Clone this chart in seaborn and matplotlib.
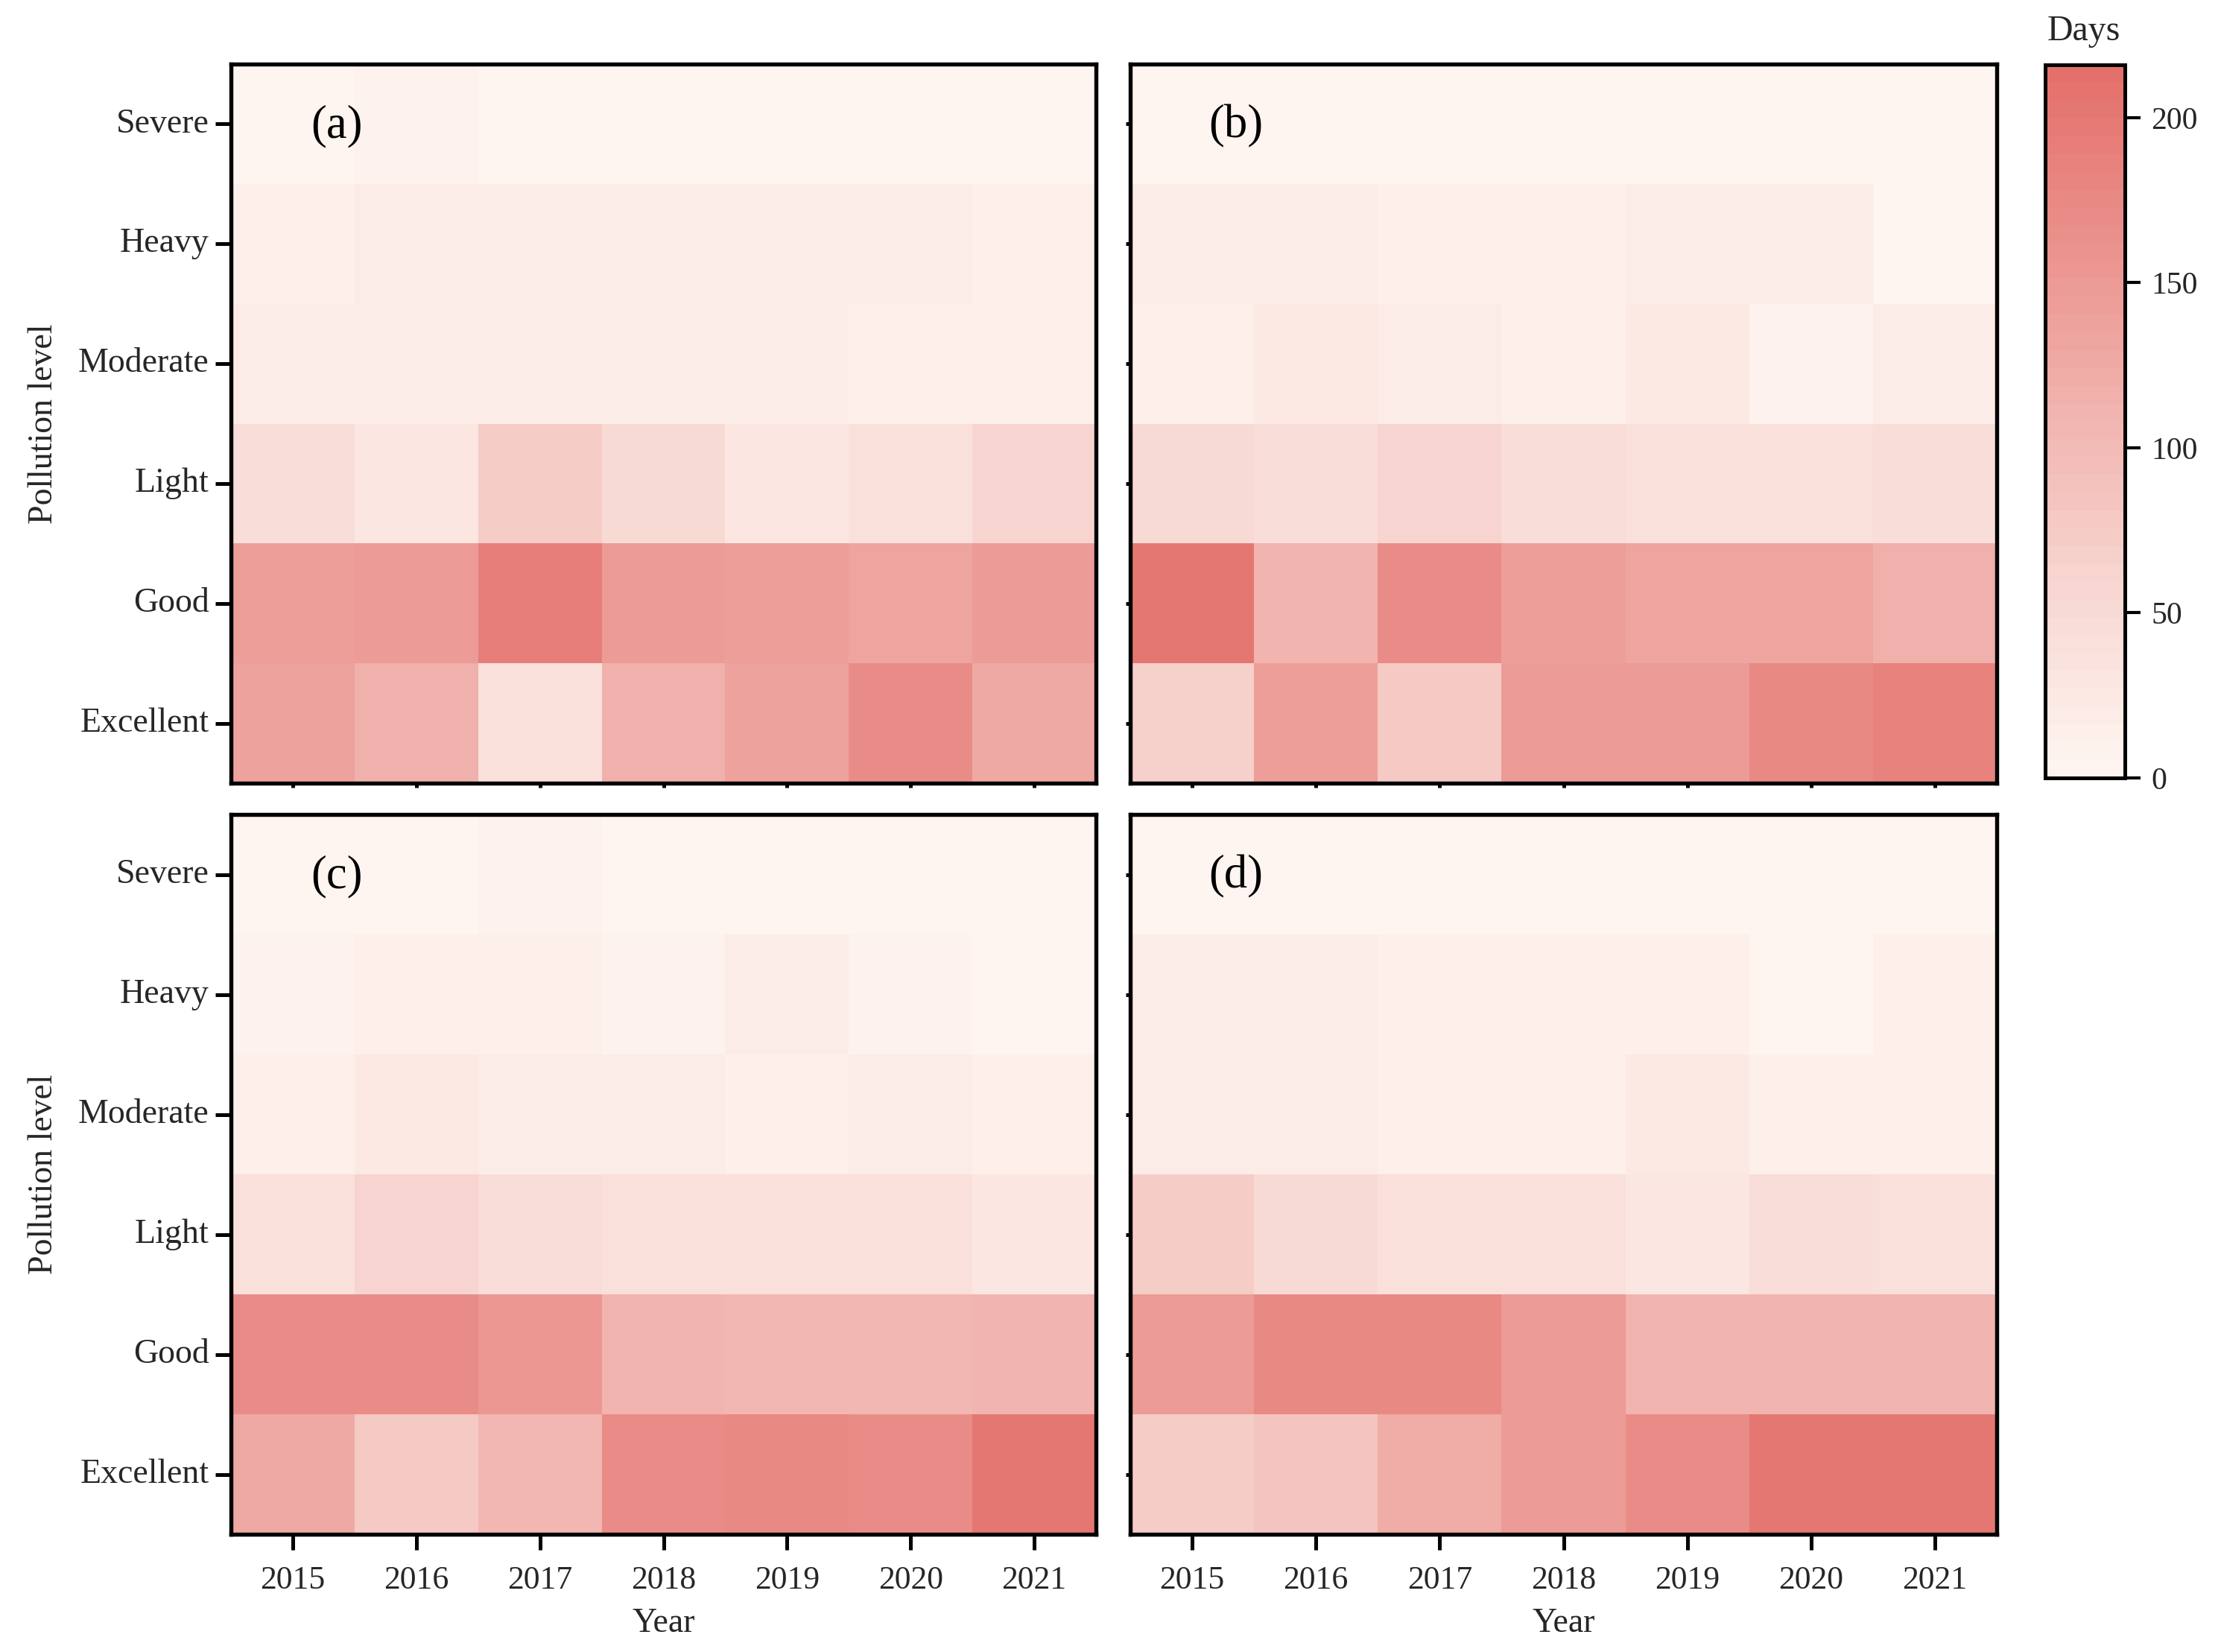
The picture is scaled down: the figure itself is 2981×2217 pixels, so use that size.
import numpy as np
import pandas as pd
import matplotlib
matplotlib.use("Agg")
import matplotlib.pyplot as plt
import seaborn as sns
from matplotlib.colors import LinearSegmentedColormap

years = [2015, 2016, 2017, 2018, 2019, 2020, 2021]
levels = ["Severe", "Heavy", "Moderate", "Light", "Good", "Excellent"]

# rows follow `levels` (Severe ... Excellent), columns follow `years`
panel_a = [
    [4, 9, 2, 2, 2, 2, 2],
    [12, 20, 17, 17, 17, 18, 12],
    [17, 17, 17, 17, 17, 12, 13],
    [48, 32, 72, 52, 32, 40, 62],
    [145, 148, 192, 148, 145, 130, 150],
    [135, 115, 38, 118, 135, 170, 125],
]
panel_b = [
    [2, 2, 2, 2, 2, 2, 2],
    [17, 17, 13, 13, 17, 17, 3],
    [12, 23, 18, 12, 23, 10, 17],
    [52, 48, 62, 48, 42, 42, 45],
    [200, 110, 170, 145, 130, 130, 115],
    [70, 145, 80, 148, 148, 175, 185],
]
panel_c = [
    [3, 4, 7, 2, 2, 2, 2],
    [8, 15, 15, 8, 17, 8, 4],
    [13, 22, 18, 18, 12, 17, 13],
    [40, 62, 45, 38, 38, 40, 32],
    [172, 168, 155, 112, 105, 105, 110],
    [125, 80, 105, 170, 178, 172, 200],
]
panel_d = [
    [2, 2, 2, 2, 2, 2, 2],
    [17, 17, 12, 12, 12, 3, 12],
    [17, 17, 12, 12, 23, 12, 12],
    [75, 50, 38, 38, 32, 48, 42],
    [148, 178, 178, 150, 110, 110, 110],
    [75, 85, 120, 148, 172, 200, 200],
]
panel_labels = ["(a)", "(b)", "(c)", "(d)"]
cbar_ticks = [0, 50, 100, 150, 200]

sns.set_theme(style="white")
plt.rcParams["font.family"] = ["Liberation Serif", "DejaVu Serif"]
plt.rcParams["axes.unicode_minus"] = False

cmap = LinearSegmentedColormap.from_list(
    "days", [(0.0, "#FEF5F0"), (0.25, "#F8D8D3"), (1.0, "#E4706B")], N=40)

W, H = 2981, 2217
fig = plt.figure(figsize=(W / 300, H / 300), dpi=300)

def fx(px):
    return px / W

def fy(py):
    return 1 - py / H

boxes = [
    (310, 86, 1471, 1051),
    (1517, 86, 2680, 1051),
    (310, 1093, 1471, 2059),
    (1517, 1093, 2680, 2059),
]
axes = []
for (x0, y0, x1, y1) in boxes:
    axes.append(fig.add_axes([fx(x0), fy(y1), fx(x1 - x0), (y1 - y0) / H]))

cbar_ax = fig.add_axes([fx(2745), fy(1044), fx(2852 - 2745), (1044 - 87) / H])

panels = [panel_a, panel_b, panel_c, panel_d]
for i, (ax, data) in enumerate(zip(axes, panels)):
    df = pd.DataFrame(data, index=levels, columns=years)
    sns.heatmap(df, ax=ax, cmap=cmap, vmin=0, vmax=216,
                cbar=(i == 0), cbar_ax=cbar_ax if i == 0 else None,
                linewidths=0)
    for sp in ax.spines.values():
        sp.set_visible(True)
        sp.set_color("black")
        sp.set_linewidth(1.3)
    ax.set_xlabel("")
    ax.set_ylabel("")
    left = i in (0, 2)
    bottom = i in (2, 3)
    ax.tick_params(axis="y", left=True, length=5 if left else 1.5, width=1.2,
                   color="black", labelleft=left, labelsize=11, pad=2)
    ax.tick_params(axis="x", bottom=True, length=5 if bottom else 1.5, width=1.2,
                   color="black", labelbottom=bottom, labelsize=10.5, pad=5)
    if left:
        ax.set_yticklabels(levels, rotation=0)
        ax.set_ylabel("Pollution level", fontsize=11, labelpad=6)
    if bottom:
        ax.set_xticklabels([str(y) for y in years], rotation=0)
        ax.set_xlabel("Year", fontsize=11, labelpad=4)
    ax.text(0.122, 0.914, panel_labels[i], transform=ax.transAxes,
            fontsize=15, ha="center", va="center", color="black")

cbar = axes[0].collections[0].colorbar
cbar.set_ticks(cbar_ticks)
cbar.ax.tick_params(labelsize=10, length=5, width=1.0, color="black",
                    right=True, direction="out")
cbar.outline.set_visible(True)
cbar.outline.set_edgecolor("black")
cbar.outline.set_linewidth(1.2)
fig.text(fx(2797), fy(42), "Days", fontsize=11.5, ha="center", va="center")

fig.savefig("out.png", dpi=300, facecolor="white")
